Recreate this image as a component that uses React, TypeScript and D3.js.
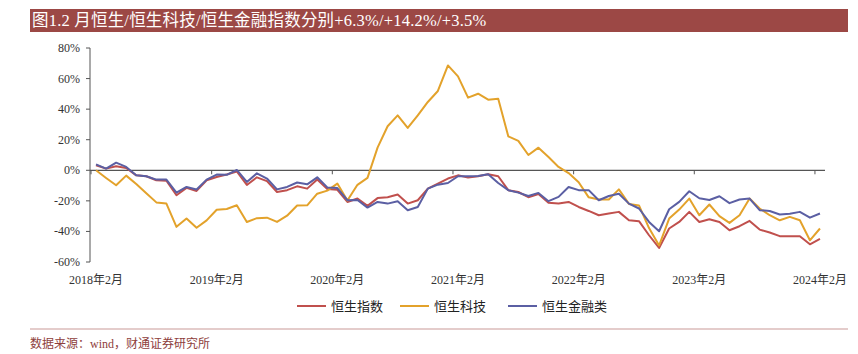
import { useEffect, useRef } from "react";
import * as d3 from "d3";

// monthly cumulative change, 2018-02 .. 2024-02 (73 months)
const months = d3.range(73).map((i) => {
  const m = (1 + i) % 12;
  const y = 2018 + Math.floor((1 + i) / 12);
  return `${y}-${String(m + 1).padStart(2, "0")}`;
});

const hsi = [
  3.3, 1.1, 2.6, 1.5, -3.3, -3.9, -6.5, -6.8, -16.3, -11.5, -13.5, -6.5,
  -4.4, -2.8, -0.8, -9.6, -4.6, -7.1, -14.2, -13, -10.5, -12, -6, -12.2,
  -12.8, -20.7, -18.5, -23.3, -18.2, -17.6, -15.9, -21.8, -19.6, -12, -8.7, -5.4,
  -3.3, -4.8, -3.9, -2.6, -3.9, -13, -14.2, -17.6, -15.5, -21.3, -21.8, -20.7,
  -24, -26.6, -29.4, -28.3, -27.2, -32.7, -33.3, -42.5, -50.8, -38.1, -33.8, -27.2,
  -33.8, -32, -33.8, -39.2, -36.6, -33.1, -38.8, -40.7, -43.1, -43.1, -43.1, -48.4,
  -44.9,
];

const hstech = [
  0, -5, -9.8, -3.5, -9, -15, -21, -21.8, -37, -31.5, -37.6, -32.8,
  -25.8, -25.3, -22.9, -33.8, -31.3, -31, -33.8, -29.7, -23, -22.9, -15.3, -13.3,
  -8.7, -19.8, -9.5, -5, 14.8, 28.8, 35.9, 27.7, 35.9, 44.7, 51.9, 68.6,
  61.4, 47.5, 50.1, 46.2, 46.8, 22.2, 19.2, 10, 14.8, 8.7, 2.2, -1.8,
  -7.8, -17.7, -19.1, -19.1, -12.5, -22, -23, -37.8, -49.2, -31.6, -25.7, -18.5,
  -29.4, -22.4, -30, -34.4, -29.4, -18.5, -25, -29.4, -32.7, -30.5, -32.7, -45.8,
  -38.1,
];

const hsfin = [
  3.9, 1.1, 5, 2.2, -3.3, -3.9, -6.1, -6.1, -14.6, -10.9, -12.6, -6.1,
  -2.8, -3, 0.2, -7.6, -2, -5.4, -12.5, -10.9, -8, -9.2, -4.6, -11.2,
  -11.6, -19.6, -19.4, -24.4, -20.7, -21.8, -20.3, -26.1, -24, -12, -9.4, -8.3,
  -3.9, -3.9, -3.7, -2.6, -8.3, -13, -14.6, -16.8, -14.8, -20.2, -17.4, -10.9,
  -13, -13, -19.6, -16.8, -15.3, -21.8, -25, -33.8, -39.9, -25.5, -20.7, -13.7,
  -18.3, -19.4, -17, -21.5, -19.1, -18.5, -26.1, -26.6, -28.9, -28.5, -27.2, -31,
  -28.3,
];

const seriesNames = ["恒生指数", "恒生科技", "恒生金融类"];
const yTicks = [80, 60, 40, 20, 0, -20, -40, -60];
const xTickLabels = ["2018年2月", "2019年2月", "2020年2月", "2021年2月", "2022年2月", "2023年2月", "2024年2月"];

const serif = "'Liberation Serif', 'Noto Sans CJK SC', serif";

const App = () => {
  const ref = useRef(null);

  useEffect(() => {
    const svg = d3.select(ref.current);
    svg.selectAll("*").remove();

    // title bar
    svg.append("rect").attr("x", 30).attr("y", 9).attr("width", 818).attr("height", 23).attr("fill", "#9c4845");
    svg
      .append("text")
      .attr("x", 32)
      .attr("y", 26)
      .attr("fill", "#fff")
      .style("font-family", serif)
      .style("font-size", "16.5px")
      .style("letter-spacing", "0.2px")
      .text("图1.2 月恒生/恒生科技/恒生金融指数分别+6.3%/+14.2%/+3.5%");

    const x = d3.scaleBand().domain(months).range([91, 825]).padding(0);
    const y = d3.scaleLinear().domain([-60, 80]).range([262, 48]);
    const cx = (d) => x(d) + x.bandwidth() / 2;

    const axisColor = "#555";

    // y axis
    const yAxis = svg.append("g").attr("transform", "translate(90,0)");
    yAxis.append("line").attr("y1", y(80)).attr("y2", y(-60)).attr("stroke", axisColor);
    yTicks.forEach((t) => {
      yAxis.append("line").attr("x1", -4).attr("x2", 0).attr("y1", y(t)).attr("y2", y(t)).attr("stroke", axisColor);
      yAxis
        .append("text")
        .attr("x", -10)
        .attr("y", y(t) + 4)
        .attr("text-anchor", "end")
        .attr("fill", "#333")
        .style("font-family", serif)
        .style("font-size", "12px")
        .text(`${t}%`);
    });

    // x axis at 0%
    const xAxis = svg.append("g");
    xAxis.append("line").attr("x1", 90).attr("x2", 825).attr("y1", y(0)).attr("y2", y(0)).attr("stroke", axisColor).attr("stroke-width", 1.2);
    xTickLabels.forEach((lab, k) => {
      const m = months[k * 12];
      xAxis.append("line").attr("x1", x(m)).attr("x2", x(m)).attr("y1", y(0)).attr("y2", y(0) + 4).attr("stroke", axisColor);
      xAxis
        .append("text")
        .attr("x", cx(m))
        .attr("y", 284)
        .attr("text-anchor", "middle")
        .attr("fill", "#333")
        .style("font-family", serif)
        .style("font-size", "12px")
        .text(lab);
    });

    const color = d3.scaleOrdinal().domain(seriesNames).range(["#c0504d", "#e3a22b", "#5b5fa3"]);
    const data = [hsi, hstech, hsfin];

    const line = d3
      .line()
      .x((d, i) => cx(months[i]))
      .y((d) => y(d));

    data.forEach((vals, k) => {
      svg
        .append("path")
        .datum(vals)
        .attr("d", line)
        .attr("fill", "none")
        .attr("stroke", color(seriesNames[k]))
        .attr("stroke-width", 2)
        .attr("stroke-linejoin", "round");
    });

    // legend
    const legendX = [297, 400, 508];
    const legend = svg.append("g").attr("transform", "translate(0,306)");
    seriesNames.forEach((name, k) => {
      legend
        .append("line")
        .attr("x1", legendX[k])
        .attr("x2", legendX[k] + 29)
        .attr("stroke", color(name))
        .attr("stroke-width", 2);
      legend
        .append("text")
        .attr("x", legendX[k] + 34)
        .attr("y", 4.5)
        .attr("fill", "#222")
        .style("font-family", serif)
        .style("font-size", "13px")
        .text(name);
    });

    // footer
    svg.append("line").attr("x1", 30).attr("x2", 848).attr("y1", 329).attr("y2", 329).attr("stroke", "#c99a98").attr("stroke-width", 1.2);
    svg
      .append("text")
      .attr("x", 30)
      .attr("y", 348)
      .attr("fill", "#8e3e3c")
      .style("font-family", serif)
      .style("font-size", "12px")
      .text("数据来源：wind，财通证券研究所");
  }, []);

  return (
    <div className="lineGraph">
      <svg ref={ref} width={858} height={354} style={{ position: "absolute", left: 0, top: 0, background: "#fff" }}></svg>
    </div>
  );
};

export default App;
